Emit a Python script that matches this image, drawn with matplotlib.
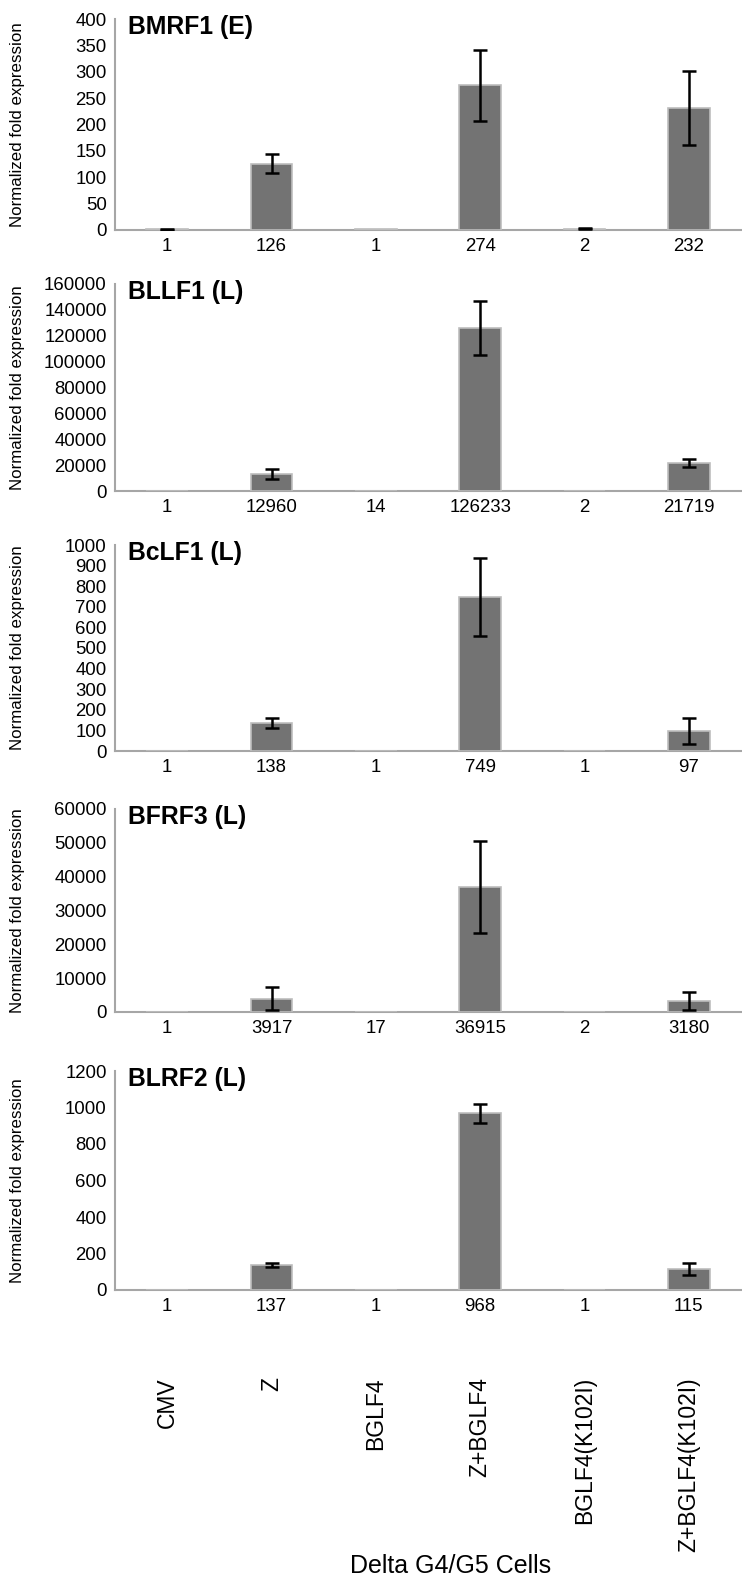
import matplotlib
matplotlib.use("Agg")
import matplotlib.pyplot as plt
import matplotlib.transforms as mtransforms
import numpy as np

plt.rcParams['font.family'] = ['Liberation Sans', 'DejaVu Sans']

categories = ["CMV", "Z", "BGLF4", "Z+BGLF4", "BGLF4(K102I)", "Z+BGLF4(K102I)"]

titles = ["BMRF1 (E)", "BLLF1 (L)", "BcLF1 (L)", "BFRF3 (L)", "BLRF2 (L)"]

bmrf1_vals = [1, 126, 1, 274, 2, 232]
bmrf1_err = [1, 18, 0, 68, 1, 70]
bllf1_vals = [1, 12960, 14, 126233, 2, 21719]
bllf1_err = [0, 4000, 0, 21000, 0, 2800]
bclf1_vals = [1, 138, 1, 749, 1, 97]
bclf1_err = [0, 24, 0, 190, 0, 65]
bfrf3_vals = [1, 3917, 17, 36915, 2, 3180]
bfrf3_err = [0, 3400, 0, 13500, 0, 2600]
blrf2_vals = [1, 137, 1, 968, 1, 115]
blrf2_err = [0, 12, 0, 53, 0, 35]

ymaxes = [400, 160000, 1000, 60000, 1200]
ysteps = [50, 20000, 100, 10000, 200]

vals_list = [bmrf1_vals, bllf1_vals, bclf1_vals, bfrf3_vals, blrf2_vals]
err_list = [bmrf1_err, bllf1_err, bclf1_err, bfrf3_err, blrf2_err]

W, H = 742, 1577
fig = plt.figure(figsize=(W / 100, H / 100), dpi=100)

# panel (top, bottom) in pixels
panels_px = [(19, 230), (284, 491), (545, 751), (809, 1012), (1071, 1290)]
left_px, right_px = 115, 741

bar_color = "#737373"
spine_color = "#a6a6a6"
x = np.arange(len(categories))

axes = []
for i, (top, bot) in enumerate(panels_px):
    ax = fig.add_axes([left_px / W, 1 - bot / H, (right_px - left_px) / W, (bot - top) / H])
    axes.append(ax)
    vals = np.array(vals_list[i], dtype=float)
    errs = np.array(err_list[i], dtype=float)
    ax.bar(x, vals, width=0.4, color=bar_color, edgecolor="#bdbdbd", linewidth=1.2, zorder=3)
    m = errs > 0
    ax.errorbar(x[m], vals[m], yerr=errs[m], fmt="none", ecolor="black",
                elinewidth=1.8, capsize=5, capthick=1.8, zorder=4)
    ax.set_xlim(-0.5, 5.5)
    ax.set_ylim(0, ymaxes[i])
    ticks = np.arange(0, ymaxes[i] + 1, ysteps[i])
    ax.set_yticks(ticks)
    ax.set_yticklabels([f"{int(v)}" for v in ticks])
    ax.set_xticks(x)
    ax.set_xticklabels([str(v) for v in vals_list[i]])
    ax.tick_params(axis="both", length=0, labelsize=13.4, colors="black")
    ax.tick_params(axis="y", pad=6)
    ax.tick_params(axis="x", pad=6)
    for s in ["top", "right"]:
        ax.spines[s].set_visible(False)
    for s in ["left", "bottom"]:
        ax.spines[s].set_color(spine_color)
        ax.spines[s].set_linewidth(1.5)
    ax.text((128 - left_px) / (right_px - left_px), 1.02, titles[i], transform=ax.transAxes,
            fontsize=17.8, fontweight="bold", ha="left", va="top")
    fig.text(18 / W, 1 - (top + bot) / 2 / H, "Normalized fold expression", rotation=90,
             ha="center", va="center", fontsize=12.2)

# category labels under the bottom panel
trans = mtransforms.blended_transform_factory(axes[-1].transData, fig.transFigure)
for xi, c in zip(x, categories):
    fig.text(xi, 1 - 1377 / H, c, rotation=90, ha="center", va="top", fontsize=16.5, transform=trans)

fig.text(451 / W, 1 - 1566 / H, "Delta G4/G5 Cells", ha="center", va="center", fontsize=18)

fig.savefig("out.png", dpi=100, facecolor="white")
